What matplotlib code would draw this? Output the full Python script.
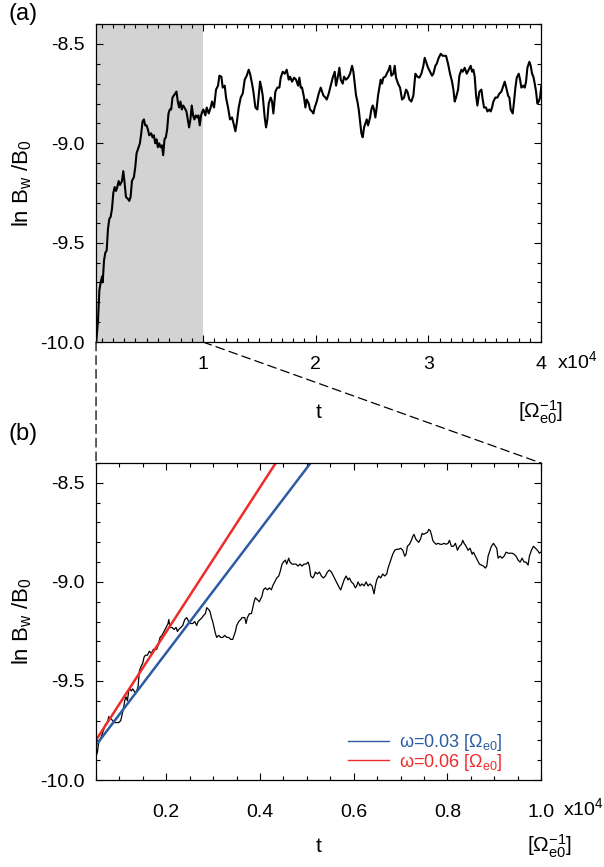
import numpy as np
import matplotlib
matplotlib.use("Agg")
import matplotlib.pyplot as plt
from matplotlib.lines import Line2D
from matplotlib.patches import ConnectionPatch
from matplotlib.ticker import MultipleLocator, FuncFormatter

# wave amplitude ln(Bw/B0) over the full run (t in 1/Omega_e0)
full_t = [
    520, 677, 795, 913, 1031, 1090, 1208, 1326, 1444, 1562, 1680, 1798, 1916,
    2034, 2152, 2270, 2388, 2506, 2624, 2801, 2919, 3037, 3155, 3332, 3450,
    3568, 3686, 3863, 3981, 4099, 4276, 4394, 4512, 4630, 4748, 4866, 4984,
    5102, 5220, 5397, 5515, 5633, 5751, 5869, 5987, 6105, 6223, 6341, 6459,
    6577, 6695, 6813, 6931, 7049, 7167, 7285, 7403, 7521, 7639, 7757, 7875,
    7993, 8111, 8229, 8347, 8524, 8642, 8760, 8878, 8996, 9114, 9232, 9350,
    9468, 9586, 9704, 9822, 9940,
    10027, 10204, 10323, 10500, 10678, 10796, 10974, 11151, 11329, 11447,
    11625, 11743, 11921, 12039, 12217, 12394, 12572, 12749, 12868, 12986,
    13163, 13341, 13519, 13696, 13874, 14051, 14170, 14347, 14466, 14643,
    14821, 14939, 15058, 15176, 15294, 15471, 15590, 15708, 15827, 16004,
    16122, 16241, 16418, 16596, 16773, 16892, 17070, 17247, 17425, 17602,
    17720, 17898, 18076, 18253, 18431, 18549, 18667, 18786, 18963, 19082,
    19200, 19378, 19496, 19673, 19792, 19910, 20088, 20265, 20443, 20562,
    20680, 20857, 20976, 21153, 21331, 21508, 21686, 21804, 21982, 22100,
    22219, 22396, 22515, 22692, 22870, 23047, 23225, 23343, 23461, 23580,
    23698, 23816, 23935, 24053, 24172, 24290, 24408, 24527, 24645, 24823,
    24938, 25057, 25175, 25293, 25412, 25530, 25649, 25767, 25885, 26004,
    26181, 26300, 26477, 26595, 26714, 26891, 27010, 27128, 27306, 27483,
    27661, 27838, 28016, 28134, 28312, 28489, 28667, 28844, 29022, 29200,
    29377, 29554, 29673, 29850, 29969, 30146, 30324, 30442, 30620, 30738,
    30916, 31093, 31271, 31448, 31567, 31744, 31922, 32099, 32218, 32336,
    32454, 32632, 32750, 32928, 33046, 33224, 33401, 33579, 33756, 33875,
    33993, 34111, 34230, 34348, 34526, 34703, 34821, 34940, 35117, 35236,
    35413, 35531, 35650, 35768, 35946, 36123, 36301, 36478, 36597, 36774,
    36952, 37070, 37188, 37307, 37484, 37603, 37721, 37840, 38017, 38135,
    38254, 38431, 38550, 38668, 38786, 38964, 39082, 39201, 39319, 39438,
    39556, 39674, 39793, 39911, 40030,
]
full_lnb = [
    -10.00, -9.89, -9.74, -9.70, -9.67, -9.70, -9.59, -9.55, -9.54, -9.43,
    -9.38, -9.37, -9.33, -9.25, -9.22, -9.24, -9.22, -9.19, -9.21, -9.19,
    -9.14, -9.20, -9.27, -9.28, -9.29, -9.27, -9.19, -9.17, -9.12, -9.05,
    -9.02, -9.00, -8.95, -8.89, -8.88, -8.91, -8.91, -8.93, -8.96, -8.95,
    -8.97, -8.96, -9.00, -8.98, -9.02, -9.00, -9.02, -9.01, -9.06, -8.98,
    -8.97, -8.93, -8.85, -8.83, -8.83, -8.77, -8.76, -8.75, -8.74, -8.79,
    -8.82, -8.79, -8.83, -8.81, -8.82, -8.84, -8.88, -8.92, -8.88, -8.81,
    -8.86, -8.88, -8.86, -8.87, -8.86, -8.91, -8.86, -8.84,
    -8.83, -8.86, -8.82, -8.85, -8.82, -8.79, -8.82, -8.73, -8.71, -8.66,
    -8.665, -8.72, -8.71, -8.77, -8.82, -8.88, -8.87, -8.91, -8.94, -8.90,
    -8.82, -8.77, -8.75, -8.68, -8.66, -8.63, -8.65, -8.70, -8.74, -8.82,
    -8.83, -8.76, -8.69, -8.72, -8.76, -8.87, -8.92, -8.88, -8.80, -8.77,
    -8.79, -8.85, -8.74, -8.72, -8.72, -8.67, -8.64, -8.65, -8.63, -8.68,
    -8.665, -8.69, -8.67, -8.68, -8.71, -8.67, -8.72, -8.72, -8.77, -8.82,
    -8.78, -8.80, -8.83, -8.84, -8.85, -8.82, -8.79, -8.75, -8.72, -8.74,
    -8.76, -8.77, -8.78, -8.75, -8.71, -8.67, -8.64, -8.71, -8.66, -8.62,
    -8.68, -8.70, -8.665, -8.68, -8.67, -8.65, -8.61, -8.64, -8.70, -8.76,
    -8.79, -8.83, -8.89, -8.95, -8.97, -8.92, -8.90, -8.88, -8.91, -8.87,
    -8.83, -8.81, -8.83, -8.87, -8.82, -8.76, -8.72, -8.68, -8.70, -8.67,
    -8.665, -8.65, -8.63, -8.61, -8.66, -8.65, -8.61, -8.67, -8.70, -8.72,
    -8.78, -8.77, -8.73, -8.74, -8.78, -8.79, -8.76, -8.65, -8.665, -8.67,
    -8.65, -8.61, -8.57, -8.60, -8.62, -8.64, -8.66, -8.65, -8.61, -8.60,
    -8.57, -8.55, -8.56, -8.56, -8.56, -8.60, -8.65, -8.69, -8.73, -8.79,
    -8.77, -8.73, -8.66, -8.63, -8.64, -8.62, -8.65, -8.63, -8.61, -8.64,
    -8.63, -8.665, -8.76, -8.81, -8.74, -8.73, -8.78, -8.82, -8.82, -8.84,
    -8.83, -8.84, -8.82, -8.79, -8.77, -8.77, -8.75, -8.74, -8.72, -8.69,
    -8.73, -8.76, -8.77, -8.83, -8.85, -8.79, -8.72, -8.67, -8.65, -8.68,
    -8.72, -8.71, -8.72, -8.69, -8.62, -8.59, -8.61, -8.65, -8.665, -8.70,
    -8.74, -8.80, -8.79, -8.77, -8.71,
]

# early growth phase at finer resolution
zoom_t = [
    500, 529, 557, 586, 614, 657, 699, 742, 771, 813, 856, 899, 941, 984,
    1027, 1055, 1084, 1112, 1141, 1169, 1198, 1226, 1254, 1283, 1311, 1340,
    1368, 1397, 1425, 1454, 1497, 1525, 1553, 1596, 1639, 1681, 1724, 1767,
    1795, 1824, 1867, 1909, 1952, 1995, 2037, 2052, 2080, 2123, 2166, 2208,
    2237, 2265, 2308, 2351, 2393, 2436, 2479, 2521, 2564, 2607, 2649, 2678,
    2721, 2763, 2792, 2834, 2863, 2906, 2934, 2963, 2991, 3019, 3048, 3076,
    3119, 3162, 3205, 3247, 3290, 3333, 3375, 3418, 3447, 3475, 3503, 3546,
    3589, 3617, 3646, 3674, 3703, 3731, 3774, 3817, 3845, 3874, 3902, 3945,
    3987,
    4044, 4072, 4115, 4158, 4200, 4243, 4271, 4314, 4357, 4400, 4428, 4471,
    4499, 4542, 4570, 4613, 4641, 4684, 4727, 4770, 4812, 4855, 4898, 4940,
    4983, 5026, 5054, 5083, 5125, 5154, 5182, 5225, 5268, 5311, 5353, 5396,
    5439, 5481, 5524, 5567, 5610, 5652, 5695, 5723, 5752, 5795, 5837, 5880,
    5908, 5951, 5994, 6036, 6065, 6093, 6136, 6179, 6221, 6264, 6307, 6350,
    6392, 6435, 6463, 6492, 6535, 6577, 6620, 6663, 6705, 6734, 6762,
    6805, 6834, 6877, 6919, 6962, 7005, 7047, 7090, 7119, 7147, 7190, 7232,
    7261, 7289, 7318, 7346, 7389, 7432, 7460, 7489, 7531, 7574, 7603, 7631,
    7659, 7688, 7716, 7759, 7802, 7845, 7887, 7930, 7973, 8015, 8044, 8086,
    8129, 8172, 8215, 8257, 8300, 8328, 8357, 8400, 8442, 8485, 8528, 8556,
    8599, 8642, 8684, 8727, 8770, 8812, 8841, 8869, 8898, 8940, 8983, 9026,
    9054, 9083, 9125, 9168, 9211, 9254, 9296, 9339, 9382, 9424, 9467, 9510,
    9553, 9595, 9638, 9680, 9723, 9751, 9794, 9837, 9880, 9922, 9965, 9994,
]
zoom_lnb = [
    -9.88, -9.86, -9.81, -9.80, -9.78, -9.75, -9.72, -9.71, -9.68, -9.69,
    -9.70, -9.71, -9.71, -9.71, -9.70, -9.67, -9.64, -9.60, -9.58, -9.60,
    -9.55, -9.54, -9.55, -9.54, -9.55, -9.56, -9.55, -9.53, -9.45, -9.43,
    -9.41, -9.38, -9.37, -9.37, -9.35, -9.36, -9.34, -9.34, -9.34, -9.32,
    -9.28, -9.27, -9.25, -9.23, -9.21, -9.19, -9.23, -9.23, -9.24, -9.23,
    -9.25, -9.24, -9.23, -9.22, -9.19, -9.18, -9.20, -9.21, -9.21, -9.20,
    -9.22, -9.20, -9.19, -9.18, -9.17, -9.16, -9.13, -9.14, -9.15, -9.18,
    -9.20, -9.23, -9.26, -9.28, -9.27, -9.28, -9.28, -9.27, -9.28, -9.28,
    -9.29, -9.29, -9.27, -9.25, -9.22, -9.20, -9.19, -9.18, -9.18, -9.18,
    -9.21, -9.18, -9.16, -9.16, -9.13, -9.10, -9.08, -9.09, -9.10,
    -9.07, -9.04, -9.03, -9.04, -9.03, -9.04, -9.02, -9.00, -8.98, -8.97,
    -8.95, -8.91, -8.90, -8.89, -8.91, -8.88, -8.90, -8.91, -8.91, -8.91,
    -8.92, -8.91, -8.92, -8.91, -8.91, -8.90, -8.92, -8.97, -8.98, -8.97,
    -8.95, -8.96, -8.95, -8.97, -8.98, -8.97, -8.95, -8.94, -8.95, -8.97,
    -8.99, -9.01, -9.03, -9.04, -9.02, -8.99, -8.97, -8.99, -8.98, -9.00,
    -9.01, -9.03, -9.02, -9.00, -9.02, -9.01, -9.02, -9.00, -9.02, -9.01,
    -9.02, -9.06, -9.02, -8.99, -8.97, -8.98, -8.96, -8.97, -8.96, -8.93,
    -8.91,
    -8.88, -8.86, -8.84, -8.835, -8.835, -8.83, -8.84, -8.87, -8.86, -8.82,
    -8.81, -8.79, -8.77, -8.76, -8.78, -8.79, -8.80, -8.78, -8.755, -8.76,
    -8.755, -8.75, -8.735, -8.74, -8.76, -8.79, -8.80, -8.81, -8.805, -8.81,
    -8.81, -8.805, -8.81, -8.805, -8.79, -8.82, -8.82, -8.805, -8.84, -8.82,
    -8.81, -8.79, -8.805, -8.82, -8.84, -8.83, -8.86, -8.85, -8.87, -8.89,
    -8.91, -8.915, -8.92, -8.93, -8.92, -8.87, -8.85, -8.82, -8.805, -8.82,
    -8.83, -8.88, -8.87, -8.88, -8.87, -8.85, -8.855, -8.855, -8.855, -8.86,
    -8.87, -8.89, -8.90, -8.88, -8.90, -8.90, -8.915, -8.87, -8.84, -8.82,
    -8.83, -8.84, -8.855, -8.85,
]

# linear growth fits: ln B = v0 + gamma * (t - t0)
fit_labels = [r"$\omega$=0.03 [$\Omega_{e0}$]", r"$\omega$=0.06 [$\Omega_{e0}$]"]
fit_colors = ["#2b5ca3", "#ee2c2c"]
fit_t0 = 500.0
fit_v0 = [-9.824, -9.798]
fit_gamma = [3.11e-4, 3.645e-4]

t_full = (500, 40000)
t_zoom = (500, 10000)
lnb_range = (-10.0, -8.4)

plt.rcParams["font.family"] = ["Liberation Sans", "DejaVu Sans"]
plt.rcParams["mathtext.fontset"] = "custom"
plt.rcParams["mathtext.rm"] = "Liberation Sans"
plt.rcParams["mathtext.it"] = "Liberation Sans:italic"
plt.rcParams["mathtext.default"] = "regular"


def style_axes(ax, xmajor, xminor, label_pad):
    ax.set_ylim(*lnb_range)
    ax.yaxis.set_major_locator(MultipleLocator(0.5))
    ax.yaxis.set_minor_locator(MultipleLocator(0.1))
    ax.yaxis.set_major_formatter(FuncFormatter(lambda v, p: f"{v:.1f}"))
    ax.xaxis.set_major_locator(MultipleLocator(xmajor))
    ax.xaxis.set_minor_locator(MultipleLocator(xminor))
    ax.tick_params(which="both", direction="in", top=True, right=True,
                   width=0.8, labelsize=14)
    ax.tick_params(which="major", length=5)
    ax.tick_params(which="minor", length=3)
    ax.tick_params(axis="x", pad=label_pad)
    ax.tick_params(axis="y", pad=8)
    for s in ax.spines.values():
        s.set_linewidth(0.9)
    ax.set_ylabel(r"ln B$_{w}$ /B$_{0}$", fontsize=16)
    ax.yaxis.set_label_coords(-0.14, 0.5)


fig = plt.figure(figsize=(6.04, 8.67), dpi=100)
ax_a = fig.add_axes([0.159, 0.6055, 0.7368, 0.3668])
ax_b = fig.add_axes([0.159, 0.1003, 0.7368, 0.3656])

# (a) whole run, linear phase shaded
ax_a.axvspan(*t_zoom, color="#d3d3d3", lw=0, zorder=0)
ax_a.plot(full_t, full_lnb, color="black", lw=1.5)
ax_a.set_xlim(*t_full)
style_axes(ax_a, 10000, 1000, 10)
ax_a.xaxis.set_major_formatter(FuncFormatter(lambda v, p: f"{v / 1e4:.0f}"))
ax_a.text(1.036, -0.06, r"x10$^{4}$", transform=ax_a.transAxes,
          fontsize=14, ha="left", va="center")
ax_a.text(0.5, -0.222, "t", transform=ax_a.transAxes, fontsize=15,
          ha="center", va="center")
ax_a.text(0.998, -0.222, r"[$\Omega^{-1}_{e0}$]", transform=ax_a.transAxes,
          fontsize=15, ha="center", va="center")

# (b) zoom on the linear growth phase with fitted rates
ax_b.plot(zoom_t, zoom_lnb, color="black", lw=0.9)
tt = np.array(t_zoom, dtype=float)
for v0, g, c in zip(fit_v0, fit_gamma, fit_colors):
    ax_b.plot(tt, v0 + g * (tt - fit_t0), color=c, lw=1.8)
ax_b.set_xlim(*t_zoom)
style_axes(ax_b, 2000, 500, 17)
ax_b.xaxis.set_major_formatter(FuncFormatter(lambda v, p: f"{v / 1e4:.1f}"))
ax_b.text(1.049, -0.088, r"x10$^{4}$", transform=ax_b.transAxes,
          fontsize=14, ha="left", va="center")
ax_b.text(0.5, -0.21, "t", transform=ax_b.transAxes, fontsize=15,
          ha="center", va="center")
ax_b.text(1.02, -0.21, r"[$\Omega^{-1}_{e0}$]", transform=ax_b.transAxes,
          fontsize=15, ha="center", va="center")

handles = [Line2D([], [], color=c, lw=1.0) for c in fit_colors]
leg = ax_b.legend(handles, fit_labels, loc="center left",
                  bbox_to_anchor=(0.566, 0.087), frameon=False, fontsize=13,
                  handlelength=2.3, handletextpad=0.55, labelspacing=-0.1,
                  borderpad=0, borderaxespad=0)
for txt, c in zip(leg.get_texts(), fit_colors):
    txt.set_color(c)

# dashed guides from the shaded window down to panel (b)
for t_edge in t_zoom:
    con = ConnectionPatch(xyA=(t_edge, lnb_range[0]), coordsA=ax_a.transData,
                          xyB=(t_edge, lnb_range[1]), coordsB=ax_b.transData,
                          color="black", lw=0.9, linestyle=(0, (7, 4)))
    fig.add_artist(con)

fig.text(0.039, 0.984, "(a)", fontsize=17, ha="center", va="center")
fig.text(0.039, 0.499, "(b)", fontsize=17, ha="center", va="center")

fig.savefig("out.png", dpi=100)
